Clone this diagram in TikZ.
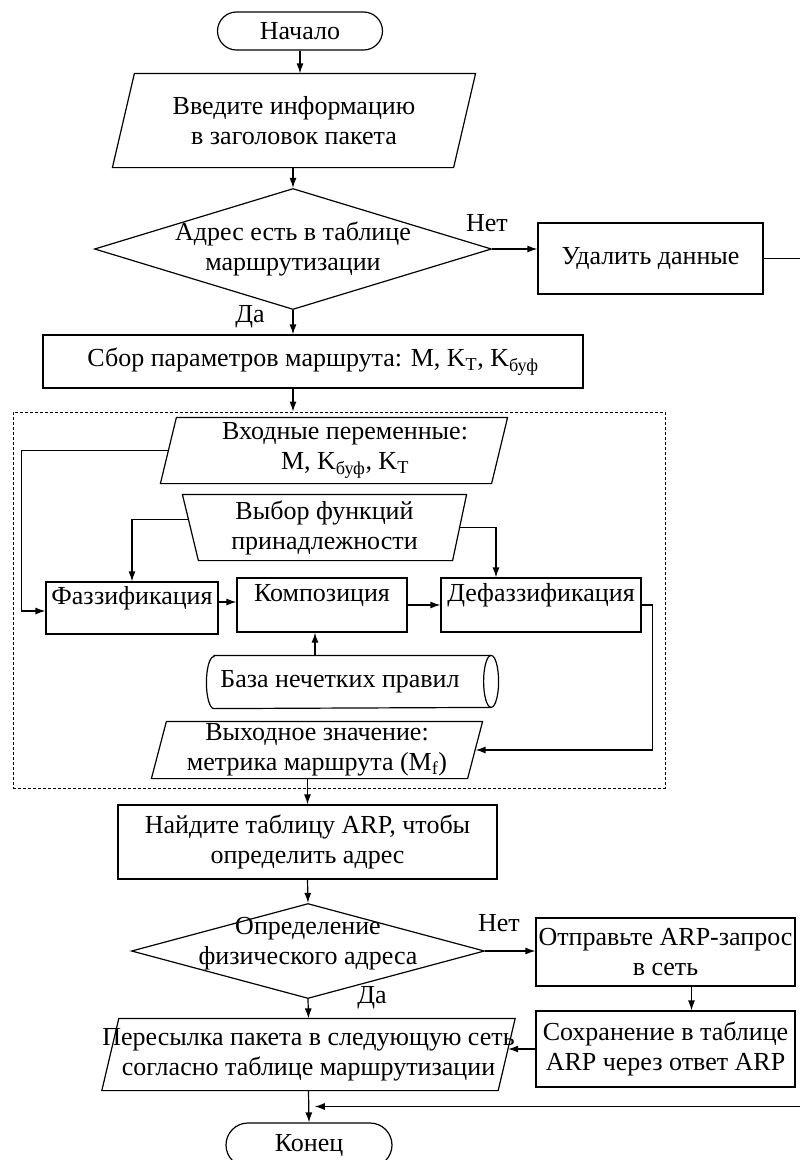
\documentclass[tikz,border=0pt]{standalone}
\usepackage{fontspec}
\setmainfont{Liberation Serif}
\usetikzlibrary{arrows.meta,positioning,shapes.geometric,calc}

\begin{document}
\begin{tikzpicture}[
  x=1pt,y=-1pt,
  line width=1.2pt,
  font=\fontsize{26}{30}\selectfont,
  term/.style={draw,rectangle,rounded corners=19pt,minimum width=165pt,
               minimum height=38pt,inner sep=0pt},
  block/.style={draw,rectangle,align=center,inner sep=2pt},
  fblock/.style={block,text height=18pt,text depth=26pt},
  io/.style={rectangle,align=center,inner sep=0pt},
  dec/.style={draw,diamond,inner sep=0pt},
  frame/.style={draw,dash pattern=on 3pt off 2pt,line width=0.9pt,inner sep=0pt},
  arr/.style={-{Latex[length=10pt,width=7pt]}}
]
\useasboundingbox (0,0) rectangle (800,1160);
% Start and header
\node[term] (start) at (300,31) {Начало};
\node[io,minimum width=362pt,minimum height=93pt] (hdr) at (294,120.5)
  {Введите информацию\\в заголовок пакета};
% Routing table check
\node[dec,minimum width=397pt,minimum height=121pt,
  label={[align=center]center:Адрес есть в таблице\\маршрутизации}] (ask) at (293,249) {};
\node[block,minimum width=225pt,minimum height=71pt] (del) at (650.5,258.5) {Удалить данные};
\node (no1) at (487,223) {Нет};
\node (yes1) at (250,317) {Да};
\node[block,minimum width=540pt,minimum height=53pt] (coll) at (313,361.5)
  {Сбор параметров маршрута: M, K\textsubscript{T}, K\textsubscript{буф}};
% Fuzzy block
\node[frame,minimum width=652pt,minimum height=376pt] (fz) at (339,600) {};
\node[io,minimum width=346pt,minimum height=65pt] (inp) at (334,450.5)
  {\hspace*{22pt}Входные переменные:\\\hspace*{22pt}M, K\textsubscript{буф}, K\textsubscript{T}};
\node[io,minimum width=283pt,minimum height=65pt] (sel) at (324.5,527.5)
  {Выбор функций\\принадлежности};
\node[fblock,minimum width=172pt,minimum height=52pt] (fuz) at (132,608) {Фаззификация};
\node[fblock,minimum width=170pt,minimum height=54pt] (comp) at (322,605) {Композиция};
\node[fblock,minimum width=200pt,minimum height=54pt] (def) at (541,605) {Дефаззификация};
\node[io,minimum width=291pt,minimum height=52pt] (base) at (352.5,682)
  {База нечетких правил\hspace*{25pt}};
\node[io,minimum width=330pt,minimum height=56pt] (out) at (317,750)
  {Выходное значение:\\метрика маршрута (M\textsubscript{f})};
% ARP part
\node[block,minimum width=379pt,minimum height=74pt] (find) at (307.5,842)
  {Найдите таблицу ARP, чтобы\\определить адрес};
\node[dec,minimum width=353pt,minimum height=95pt,
  label={[align=center,yshift=7pt]center:Определение\\физического адреса}] (ask2) at (308,951) {};
\node (no2) at (499,923) {Нет};
\node (yes2) at (372,998) {Да};
\node[block,minimum width=259pt,minimum height=68pt] (send) at (665.5,952)
  {Отправьте ARP-запрос\\в сеть};
\node[block,minimum width=259pt,minimum height=76pt] (save) at (665.5,1049)
  {Сохранение в таблице\\ARP через ответ ARP};
\node[io,minimum width=391pt,minimum height=71pt] (fwd) at (308.5,1054.5)
  {Пересылка пакета в следующую сеть\\согласно таблице маршрутизации};
\node[term,minimum width=166pt,minimum height=44pt,rounded corners=22pt] (stop) at (309,1145) {Конец};
% Slanted outlines
\foreach \n/\s in {hdr/22,inp/16,out/15,fwd/17}
  \draw ([xshift=\s pt]\n.north west) -- (\n.north east)
    -- ([xshift=-\s pt]\n.south east) -- (\n.south west) -- cycle;
\draw (sel.north west) -- (sel.north east) -- ([xshift=-14pt]sel.south east)
  -- ([xshift=16pt]sel.south west) -- cycle;
% Rule base cylinder
\draw ([xshift=7.5pt]base.north west) -- ([xshift=-7.5pt]base.north east)
  arc[start angle=90,end angle=-90,x radius=7.5pt,y radius=26pt]
  -- ([xshift=7.5pt]base.south west)
  arc[start angle=270,end angle=90,x radius=7.5pt,y radius=26pt] -- cycle;
\draw ([xshift=-7.5pt]base.north east)
  arc[start angle=90,end angle=270,x radius=7.5pt,y radius=26pt];
% Arrows
\draw[arr] (start) -- (hdr.north -| start.south);
\draw[arr] (hdr.south -| ask.north) -- (ask.north);
\draw[arr] (ask.east) -- (ask.east -| del.west);
\draw[arr] (ask.south) -- (ask.south |- coll.north);
\draw[arr] (ask.south |- coll.south) -- (ask.south |- fz.north);
\draw[arr] ([xshift=8pt]inp.west) -- ++(-147,0) |- ([yshift=-3pt]fuz.west);
\draw[arr] ([shift={(6,-8)}]sel.west) -| (fuz.north);
\draw[arr] ([xshift=-7pt]sel.east) -| ([xshift=-45pt]def.north);
\draw[arr] ([yshift=6pt]fuz.east) -- ([yshift=6pt]fuz.east -| comp.west);
\draw[arr] (comp.east) -- (comp.east -| def.west);
\draw[arr] ([xshift=-7pt]comp.south |- base.north) -- ([xshift=-7pt]comp.south);
\draw[arr] (def.east) -- ++(11,0) |- ([xshift=-7pt]out.east);
\draw[arr] (out.south -| find.north) -- (find.north);
\draw[arr] (find.south) -- (ask2.north);
\draw[arr] (ask2.east) -- (ask2.east -| send.west);
\draw[arr] ([xshift=26pt]send.south) -- ([xshift=26pt]save.north);
\draw[arr] (ask2.south) -- (fwd.north);
\draw[arr] (save.west) -- ([xshift=-7pt]save.west -| fwd.east);
\draw[arr] (fwd.south) -- (stop.north);
\coordinate (join) at ($(fwd.south)!0.5!(stop.north)$);
\draw[arr,shorten >=6pt] (del.east) -- ++(60,0) |- (join);
\end{tikzpicture}
\end{document}
